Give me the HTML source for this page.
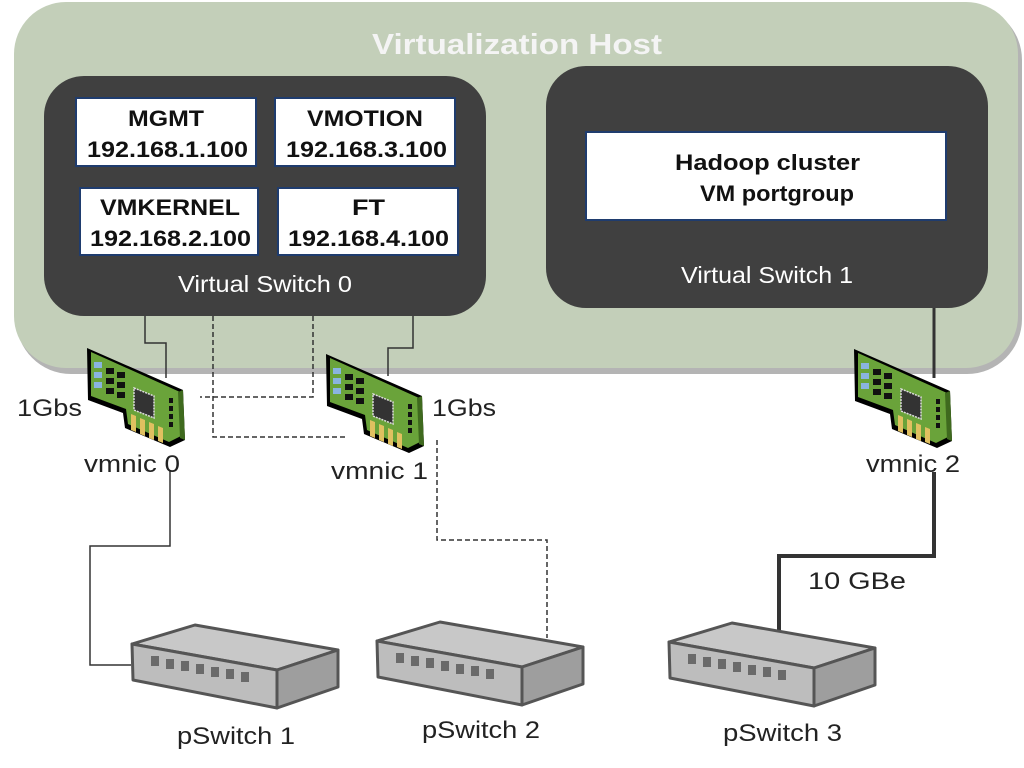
<!DOCTYPE html>
<html><head><meta charset="utf-8"><style>
html,body{margin:0;padding:0;background:#fff;width:1024px;height:768px;overflow:hidden}
svg{display:block}
text{font-family:"Liberation Sans",Arial,sans-serif}
</style></head><body>
<svg width="1024" height="768" viewBox="0 0 1024 768" xmlns="http://www.w3.org/2000/svg">
<defs>
<g id="nic">
  <polygon points="0,0 96,42 98,92 83,99 38,80 36,65 1,52" fill="#000"/>
  <polygon points="4,4 93,44 94,88 82,94 41,76 39,61 4,48" fill="#6aa33a"/>
  <polygon points="91,44 96,42 98,92 93,90" fill="#3f6a1e"/>
  <g fill="#e0c060">
    <polygon points="44,66 49,68 49,84 44,82"/><polygon points="53,70 58,72 58,88 53,86"/>
    <polygon points="62,74 67,76 67,92 62,90"/><polygon points="71,78 76,80 76,95 71,93"/>
  </g>
  <rect x="7" y="14" width="8" height="6" fill="#8ab4e0"/>
  <rect x="7" y="24" width="8" height="6" fill="#8ab4e0"/>
  <rect x="7" y="34" width="8" height="6" fill="#8ab4e0"/>
  <rect x="19" y="20" width="8" height="6" fill="#111"/><rect x="30" y="24" width="8" height="6" fill="#111"/>
  <rect x="19" y="30" width="8" height="6" fill="#111"/><rect x="30" y="34" width="8" height="6" fill="#111"/>
  <rect x="19" y="40" width="8" height="6" fill="#111"/><rect x="30" y="44" width="8" height="6" fill="#111"/>
  <polygon points="47,40 67,48 67,70 47,62" fill="#333" stroke="#ddd" stroke-width="1.5" stroke-dasharray="2,1"/>
  <rect x="82" y="50" width="4" height="5" fill="#111"/><rect x="82" y="58" width="4" height="5" fill="#111"/>
  <rect x="82" y="66" width="4" height="5" fill="#111"/><rect x="82" y="74" width="4" height="5" fill="#111"/>
</g>
<g id="psw">
  <polygon points="132,644 195,625 338,650 277,670" fill="#c8c8c8" stroke="#555" stroke-width="3" stroke-linejoin="round"/>
  <polygon points="132,644 277,670 277,708 133,680" fill="#bdbdbd" stroke="#555" stroke-width="3" stroke-linejoin="round"/>
  <polygon points="277,670 338,650 338,687 277,708" fill="#9e9e9e" stroke="#555" stroke-width="3" stroke-linejoin="round"/>
  <g fill="#6a6a6a">
    <rect x="151" y="656" width="8" height="10"/><rect x="166" y="659" width="8" height="10"/>
    <rect x="181" y="661" width="8" height="10"/><rect x="196" y="664" width="8" height="10"/>
    <rect x="211" y="667" width="8" height="10"/><rect x="226" y="669" width="8" height="10"/>
    <rect x="241" y="672" width="8" height="10"/>
  </g>
</g>
</defs>
<rect x="16" y="5" width="1006" height="369" rx="55" fill="#b4b4b4"/>
<rect x="14" y="2" width="1004" height="366" rx="52" fill="#c3cfb9"/>
<text x="372" y="54" font-size="29" font-weight="bold" fill="#f4f4f4" textLength="290" lengthAdjust="spacingAndGlyphs">Virtualization  Host</text>
<rect x="44" y="76" width="442" height="240" rx="40" fill="#404040"/>
<g stroke="#1f3c6e" stroke-width="2" fill="#fff">
<rect x="76" y="98" width="180" height="68"/>
<rect x="275" y="98" width="180" height="68"/>
<rect x="80" y="188" width="178" height="67"/>
<rect x="278" y="188" width="180" height="67"/>
</g>
<g font-size="22" font-weight="bold" fill="#111" lengthAdjust="spacingAndGlyphs">
<text x="128" y="126" textLength="76" lengthAdjust="spacingAndGlyphs">MGMT</text><text x="87" y="157" textLength="161" lengthAdjust="spacingAndGlyphs">192.168.1.100</text>
<text x="307" y="126" textLength="116" lengthAdjust="spacingAndGlyphs">VMOTION</text><text x="286" y="157" textLength="161" lengthAdjust="spacingAndGlyphs">192.168.3.100</text>
<text x="100" y="215" textLength="140" lengthAdjust="spacingAndGlyphs">VMKERNEL</text><text x="90" y="246" textLength="161" lengthAdjust="spacingAndGlyphs">192.168.2.100</text>
<text x="352" y="215" textLength="33" lengthAdjust="spacingAndGlyphs">FT</text><text x="288" y="246" textLength="161" lengthAdjust="spacingAndGlyphs">192.168.4.100</text>
</g>
<text x="178" y="292" font-size="23" fill="#fff" textLength="174" lengthAdjust="spacingAndGlyphs">Virtual Switch 0</text>
<rect x="546" y="66" width="442" height="242" rx="40" fill="#404040"/>
<rect x="586" y="132" width="360" height="88" fill="#fff" stroke="#1f3c6e" stroke-width="2"/>
<text x="675" y="170" font-size="22" font-weight="bold" fill="#111" textLength="185" lengthAdjust="spacingAndGlyphs">Hadoop cluster</text>
<text x="700" y="201" font-size="22" font-weight="bold" fill="#111" textLength="154" lengthAdjust="spacingAndGlyphs">VM portgroup</text>
<text x="681" y="283" font-size="23" fill="#fff" textLength="172" lengthAdjust="spacingAndGlyphs">Virtual Switch 1</text>
<g fill="none" stroke="#333" stroke-width="1.5">
<polyline points="145,316 145,343 166,343 166,378"/>
<polyline points="413,316 413,348 388,348 388,376"/>
<polyline points="170,470 170,546 90,546 90,665 131,665"/>
</g>
<g fill="none" stroke="#333" stroke-width="1.5" stroke-dasharray="5,3">
<polyline points="213,316 213,437 348,437"/>
<polyline points="313,316 313,397 200,397"/>
<polyline points="437,440 437,540 547,540 547,638"/>
</g>
<polyline points="934,308 934,378" fill="none" stroke="#333" stroke-width="3"/>
<polyline points="934,472 934,556 779,556 779,632" fill="none" stroke="#333" stroke-width="4"/>
<use href="#nic" x="87" y="348"/>
<use href="#nic" x="326" y="354"/>
<use href="#nic" x="854" y="349"/>
<use href="#psw"/>
<use href="#psw" x="245" y="-3"/>
<use href="#psw" x="537" y="-2"/>
<g font-size="24" fill="#222">
<text x="17" y="416" textLength="65" lengthAdjust="spacingAndGlyphs">1Gbs</text>
<text x="84" y="472" textLength="96" lengthAdjust="spacingAndGlyphs">vmnic 0</text>
<text x="331" y="479" textLength="97" lengthAdjust="spacingAndGlyphs">vmnic 1</text>
<text x="432" y="416" textLength="64" lengthAdjust="spacingAndGlyphs">1Gbs</text>
<text x="866" y="472" textLength="94" lengthAdjust="spacingAndGlyphs">vmnic 2</text>
<text x="808" y="589" textLength="98" lengthAdjust="spacingAndGlyphs">10 GBe</text>
<text x="177" y="744" textLength="118" lengthAdjust="spacingAndGlyphs">pSwitch 1</text>
<text x="422" y="738" textLength="118" lengthAdjust="spacingAndGlyphs">pSwitch 2</text>
<text x="723" y="741" textLength="119" lengthAdjust="spacingAndGlyphs">pSwitch 3</text>
</g>
</svg>
</body></html>
